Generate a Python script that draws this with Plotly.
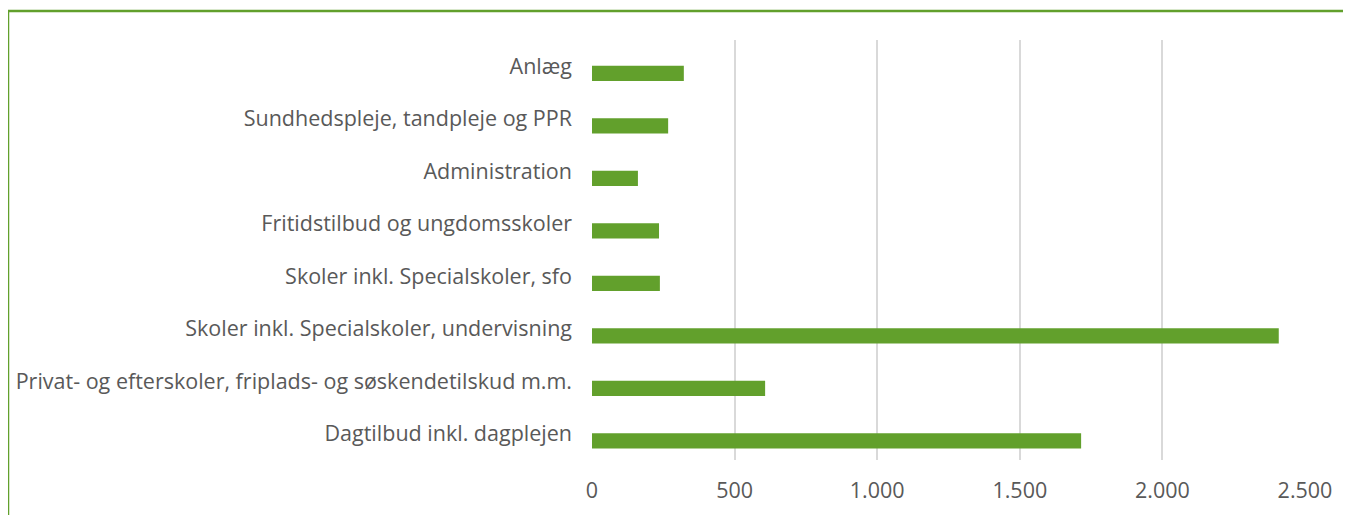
import plotly.graph_objects as go

# Udgifter pr. område (top til bund som i figuren)
omraader = [
    "Anlæg",
    "Sundhedspleje, tandpleje og PPR",
    "Administration",
    "Fritidstilbud og ungdomsskoler",
    "Skoler inkl. Specialskoler, sfo",
    "Skoler inkl. Specialskoler, undervisning",
    "Privat- og efterskoler, friplads- og søskendetilskud m.m.",
    "Dagtilbud inkl. dagplejen",
]
beloeb = [322, 267, 161, 235, 238, 2408, 607, 1715]
x_ticks = [0, 500, 1000, 1500, 2000, 2500]

green = "#62A02C"
grey_text = "#595959"

# siden har 8px body-margin, så figuren gøres tilsvarende mindre
W, H = 1343, 507
L, R, T, B = 584, 46, 32, 55
pw = W - L - R
ph = H - T - B

fig = go.Figure()
fig.add_trace(go.Bar(
    x=beloeb,
    y=omraader,
    orientation="h",
    marker=dict(color=green, line=dict(width=0)),
    width=0.29,
    offset=-0.01,  # søjlen sidder lidt under kategoriens midte som i Excel
    hoverinfo="x+y",
))

fig.update_layout(
    width=W,
    height=H,
    margin=dict(l=L, r=R, t=T, b=B),
    paper_bgcolor="white",
    plot_bgcolor="white",
    separators=",.",
    showlegend=False,
    font=dict(family="Open Sans", size=21.5, color=grey_text),
    xaxis=dict(
        range=[0, 2500],
        tickvals=x_ticks,
        tickformat=",d",
        showgrid=True,
        gridcolor="#D9D9D9",
        gridwidth=1.5,
        zeroline=False,
        showline=False,
        ticks="",
        ticklabelstandoff=15,
        automargin=False,
    ),
    yaxis=dict(
        autorange="reversed",
        showgrid=False,
        zeroline=False,
        showline=False,
        ticks="",
        ticklabelstandoff=19,
        automargin=False,
    ),
    shapes=[
        # ramme (top og venstre kant)
        dict(type="line", xref="paper", yref="paper",
             x0=-L / pw, x1=(W - L) / pw + 0.02,
             y0=1 + 29 / ph, y1=1 + 29 / ph,
             line=dict(color=green, width=2.5)),
        dict(type="line", xref="paper", yref="paper",
             x0=-L / pw, x1=-L / pw,
             y0=1 + 29 / ph, y1=-0.2,
             line=dict(color=green, width=2.5)),
    ],
)

fig.write_html("out.html")
